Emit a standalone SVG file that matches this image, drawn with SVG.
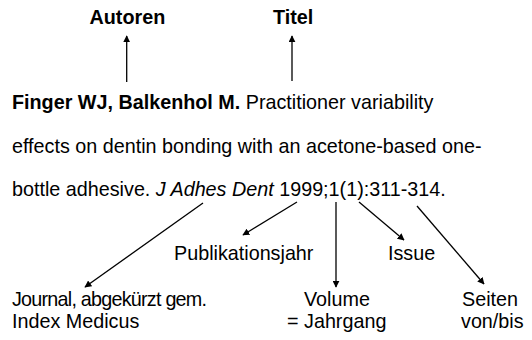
<svg xmlns="http://www.w3.org/2000/svg" width="532" height="340" viewBox="0 0 532 340">
<style>
text{font-family:"Liberation Sans",Arial,sans-serif;font-size:19.75px;fill:#000}
.b{font-weight:bold}
.i{font-style:italic}
.c line{stroke:#000;stroke-width:1.3;fill:none}
</style>
<defs>
<marker id="ah" viewBox="0 0 10 10" refX="9" refY="5" markerWidth="7" markerHeight="7" markerUnits="userSpaceOnUse" orient="auto">
<path d="M0,0 L10,5 L0,10 z" fill="#000"/>
</marker>
</defs>
<rect width="532" height="340" fill="#fff"/>
<g id="autoren"><text class="b" x="89.5" y="24">Autoren</text></g>
<g id="titel"><text class="b" x="273" y="24">Titel</text></g>
<g id="zitat">
<text x="12" y="109"><tspan class="b">Finger WJ, Balkenhol M.</tspan> Practitioner variability</text>
<text x="12" y="152.5">effects on dentin bonding with an acetone-based one-</text>
<text x="12" y="196">bottle adhesive. <tspan class="i">J Adhes Dent</tspan> 1999;1(1):311-314.</text>
</g>
<g id="publikationsjahr"><text x="174" y="260">Publikationsjahr</text></g>
<g id="issue"><text x="388" y="260">Issue</text></g>
<g id="journal"><text x="12" y="306"><tspan x="12" textLength="195" lengthAdjust="spacing">Journal, abgekürzt gem.</tspan><tspan x="12" dy="22.2">Index Medicus</tspan></text></g>
<g id="volume"><text x="304" y="306"><tspan x="304">Volume</tspan><tspan x="287" dy="22.2">= Jahrgang</tspan></text></g>
<g id="seiten"><text x="462" y="306"><tspan x="462">Seiten</tspan><tspan x="461" dy="22.2">von/bis</tspan></text></g>
<g class="c" id="connectors">
<line x1="126.7" y1="82" x2="126.7" y2="36" marker-end="url(#ah)"/>
<line x1="292" y1="81" x2="292" y2="36" marker-end="url(#ah)"/>
<line x1="203" y1="203" x2="85" y2="287" marker-end="url(#ah)"/>
<line x1="297" y1="202" x2="243" y2="235" marker-end="url(#ah)"/>
<line x1="336" y1="202" x2="336" y2="287" marker-end="url(#ah)"/>
<line x1="359" y1="202" x2="404" y2="240" marker-end="url(#ah)"/>
<line x1="417" y1="206" x2="484" y2="284" marker-end="url(#ah)"/>
</g>
</svg>
